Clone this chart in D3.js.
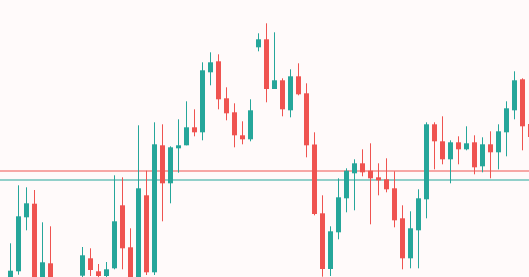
<!DOCTYPE html>
<html>
<head>
<meta charset="utf-8">
<script src="https://cdn.jsdelivr.net/npm/d3@7"></script>
<style>
  html, body { margin: 0; padding: 0; background: #fffafa; overflow: hidden; }
</style>
</head>
<body>
<div id="chart"></div>
<script>
// candle values (oldest first)
const opens = [212, 218, 228.7, 282.7, 296.3, 217, 236.7, 208, 200, 206,
  224.3, 241.7, 228.7, 224, 231.7, 294.7, 252.7, 216, 304.7, 227.7,
  354.7, 316.7, 351.7, 354.7, 372.7, 367.7, 427.7, 438.7, 401.7, 387.7,
  364.7, 360.7, 452.7, 460.7, 411, 419.7, 389.7, 423.7, 406.7, 355.5,
  286.7, 231, 267.7, 301.7, 326.7, 336.7, 329.3, 322.7, 320.7, 311.7,
  281.7, 241.7, 269.7, 300.7, 375.7, 358.7, 340.7, 357.7, 350.7, 357.7,
  333.7, 355.7, 347.7, 367.7, 389.7, 420.7, 376];
const highs = [221, 256.7, 314.7, 312.7, 310, 277.7, 273.7, 212, 214, 220,
  253, 251.7, 236, 238, 324.7, 322.7, 271.7, 374.7, 329.3, 377.7,
  375.7, 353.7, 380.7, 398.7, 390.7, 437.7, 447.7, 445.7, 412.7, 396.7,
  378.7, 400.7, 466.7, 476.7, 467.7, 421.7, 430.7, 436.7, 416.7, 367.7,
  304.7, 273.7, 321.7, 331.7, 340.7, 350.7, 356.7, 336.7, 341.7, 328.7,
  294.7, 288.7, 310.7, 377.7, 377.7, 383.7, 359.7, 363.7, 373.7, 364.7,
  362.7, 368.7, 375.7, 398.7, 428.7, 421.7, 378];
const lows = [208, 215, 225.3, 269.7, 210, 213, 204, 196, 197, 203,
  223, 224, 221, 223, 230.7, 230.7, 210, 212, 225, 225,
  278.7, 296.7, 327.3, 354.7, 363.7, 359.7, 414.7, 390.7, 379.7, 352.7,
  355.7, 358.7, 448.7, 397.7, 411, 383.7, 382.7, 404.7, 342.7, 284.7,
  223.3, 224, 260.7, 287.7, 289.7, 323.7, 275.7, 304.7, 307.7, 272.7,
  230.7, 231.7, 231.7, 281.7, 330.7, 335.7, 316.7, 335.7, 349.7, 325.7,
  327.7, 321.7, 330.7, 343.7, 380.7, 349.7, 360];
const closes = [219, 229.3, 283.7, 296.7, 215, 237.7, 208, 200, 206, 214,
  244.7, 230, 224, 230.7, 278.7, 251.7, 215, 311.7, 227.7, 355.7,
  316.7, 352.7, 354.7, 372.7, 367.7, 429.7, 437.7, 400.7, 386.7, 364.7,
  360.7, 389.7, 460.7, 411, 419.7, 390.7, 423.7, 405.7, 354.7, 286,
  231, 268.7, 302.7, 329.3, 336.7, 327.7, 321.7, 319.7, 310.7, 279.7,
  241.7, 271.7, 301.7, 375.7, 358.7, 340.7, 357.7, 350.7, 356.7, 332.7,
  355.7, 347.7, 368.7, 391.7, 419.7, 373.7, 363];

// two horizontal price levels
const levelPrices = [329, 320];
const levelColors = ["#ef5350", "#26a69a"];

const width = 529;
const height = 277;
const upColor = "#26a69a";
const downColor = "#ef5350";

const candles = opens.map((o, i) => ({
  i: i, open: o, high: highs[i], low: lows[i], close: closes[i]
}));

const svg = d3.select("#chart")
  .append("svg")
  .attr("width", width)
  .attr("height", height)
  .style("display", "block");

svg.append("rect")
  .attr("width", width)
  .attr("height", height)
  .attr("fill", "#fffafa");

const x = d3.scaleLinear()
  .domain([0, candles.length - 1])
  .range([2.5, 530.5]);

const y = d3.scaleLinear()
  .domain([223, 500])
  .range([height, 0]);

// price level lines
svg.append("g")
  .selectAll("rect")
  .data(levelPrices).enter()
  .append("rect")
  .attr("x", 0)
  .attr("y", d => y(d) - 1)
  .attr("width", width)
  .attr("height", 2)
  .attr("fill", (d, i) => levelColors[i])
  .attr("fill-opacity", 0.5);

const g = svg.append("g");

// wicks
g.selectAll("rect.wick")
  .data(candles).enter()
  .append("rect")
  .attr("class", "wick")
  .attr("x", d => x(d.i) - 0.5)
  .attr("y", d => y(d.high))
  .attr("width", 1)
  .attr("height", d => y(d.low) - y(d.high))
  .attr("fill", d => d.close >= d.open ? upColor : downColor);

// bodies
g.selectAll("rect.body")
  .data(candles).enter()
  .append("rect")
  .attr("class", "body")
  .attr("x", d => x(d.i) - 2.5)
  .attr("y", d => y(Math.max(d.open, d.close)))
  .attr("width", 5)
  .attr("height", d => Math.max(1, Math.abs(y(d.open) - y(d.close))))
  .attr("fill", d => d.close >= d.open ? upColor : downColor);
</script>
</body>
</html>
